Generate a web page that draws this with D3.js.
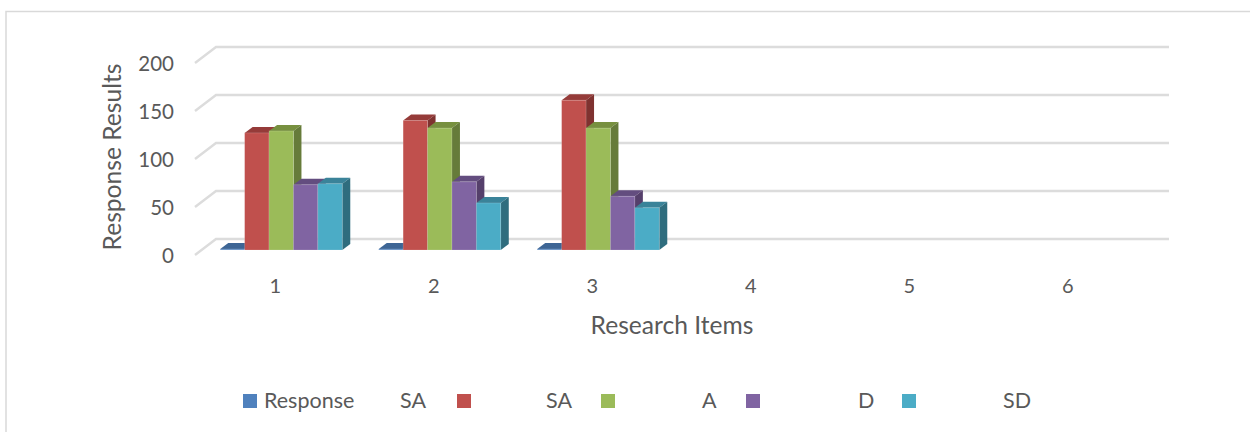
<!DOCTYPE html>
<html>
<head>
<meta charset="utf-8">
<script src="https://cdn.jsdelivr.net/npm/d3@7/dist/d3.min.js"></script>
<style>
  html, body { margin: 0; padding: 0; background: #fff; }
  text { font-family: Lato, "Open Sans", sans-serif; fill: #595959; }
</style>
</head>
<body>
<svg id="chart" width="1250" height="432"></svg>
<script>
// Survey responses per research item
const items = [1, 2, 3, 4, 5, 6];
const seriesNames = ["Response", "SA", "SA (2)", "A", "D"];
const responseValues = [1, 1, 1, 0, 0, 0];
const saValues = [122, 135, 156, 0, 0, 0];
const sa2Values = [124, 127, 127, 0, 0, 0];
const aValues = [68, 71, 56, 0, 0, 0];
const dValues = [69, 49, 44, 0, 0, 0];
const yTicks = [0, 50, 100, 150, 200];
const legendLabels = ["Response", "SA", "SA", "A", "D", "SD"];

// Face colours of each series: front, top, side
const fronts = ["#4f81bd", "#c0504d", "#9bbb59", "#8064a2", "#4bacc6"];
const tops = ["#3d6595", "#953b39", "#77903f", "#634d7f", "#3a8399"];
const sides = ["#35587f", "#7f3230", "#667b3a", "#553f6b", "#2f6d7e"];

const seriesValues = [responseValues, saValues, sa2Values, aValues, dValues];

// Layout of the pseudo-3D box
const wallDX = 21, wallDY = -16;
const barPlaneDX = 7, barPlaneDY = -5;
const barDX = 8, barDY = -6;
const frontLeft = 195, frontRight = 1146;
const frontBase = 255, frontTop = 63;

const svg = d3.select("#chart");

// Outer chart frame (top and left edges)
svg.append("path")
  .attr("d", "M6,432V11.5H1250")
  .attr("fill", "none")
  .attr("stroke", "#d9d9d9")
  .attr("stroke-width", 1.5);

const x = d3.scaleBand().domain(items).range([frontLeft, frontRight]);
const y = d3.scaleLinear().domain([0, 200]).range([frontBase, frontTop]);
const groupWidth = x.bandwidth() * 0.77;
const xInner = d3.scaleBand()
  .domain(d3.range(seriesValues.length))
  .range([0, groupWidth]);

// Floor and back-wall grid lines
svg.append("g").selectAll("path").data(yTicks).join("path")
  .attr("d", t => {
    const py = y(t);
    return `M${frontLeft},${py}L${frontLeft + wallDX},${py + wallDY}H${frontRight + wallDX + 2}`;
  })
  .attr("fill", "none")
  .attr("stroke", "#dcdcdc")
  .attr("stroke-width", 2.4);

// Each bar: top and side faces first, front face on top
const bars = svg.append("g");
items.forEach((item, i) => {
  seriesValues.forEach((vals, s) => {
    const v = vals[i];
    if (v === 0) return;
    const left = x(item) + (x.bandwidth() - groupWidth) / 2 + barPlaneDX + xInner(s);
    const right = left + xInner.bandwidth();
    const base = y(0) + barPlaneDY;
    const top = y(v) + barPlaneDY;
    const g = bars.append("g");
    g.append("path")
      .attr("d", `M${left},${top}L${left + barDX},${top + barDY}H${right + barDX}L${right},${top}Z`)
      .attr("fill", tops[s]);
    g.append("path")
      .attr("d", `M${right},${top}L${right + barDX},${top + barDY}V${base + barDY}L${right},${base}Z`)
      .attr("fill", sides[s]);
    g.append("rect")
      .attr("x", left).attr("y", top)
      .attr("width", xInner.bandwidth()).attr("height", base - top)
      .attr("fill", fronts[s])
      .attr("stroke", "#ffffff").attr("stroke-opacity", 0.2).attr("stroke-width", 0.8);
  });
});

// Value axis labels
const yAxis = svg.append("g")
  .attr("transform", `translate(${frontLeft - 21},1)`)
  .call(d3.axisLeft(y).tickValues(yTicks).tickSize(0).tickPadding(0));
yAxis.select(".domain").remove();
yAxis.selectAll("text").style("font-size", "20.5px").style("font-family", "Lato").attr("fill", "#595959").attr("dy", "0.32em");

// Category axis labels
const xAxis = svg.append("g")
  .attr("transform", "translate(1,279)")
  .call(d3.axisBottom(x).tickSize(0).tickPadding(0));
xAxis.select(".domain").remove();
xAxis.selectAll("text").style("font-size", "20px").style("font-family", "Lato").attr("fill", "#595959");

// Axis titles
svg.append("text")
  .attr("transform", "translate(121,157) rotate(-90)")
  .attr("text-anchor", "middle")
  .style("font-size", "24.6px")
  .text("Response Results");
svg.append("text")
  .attr("x", 672).attr("y", 334)
  .attr("text-anchor", "middle")
  .style("font-size", "24.6px")
  .text("Research Items");

// Legend
const swatchX = [243, 457, 601, 746, 902];
const labelX = [264, 400, 546, 702, 858, 1003];
svg.append("g").selectAll("rect").data(seriesNames).join("rect")
  .attr("x", (d, i) => swatchX[i]).attr("y", 394)
  .attr("width", 14).attr("height", 14)
  .attr("fill", (d, i) => fronts[i]);
svg.append("g").selectAll("text").data(legendLabels).join("text")
  .attr("x", (d, i) => labelX[i]).attr("y", 408)
  .style("font-size", "21.5px")
  .text(d => d);
</script>
</body>
</html>
